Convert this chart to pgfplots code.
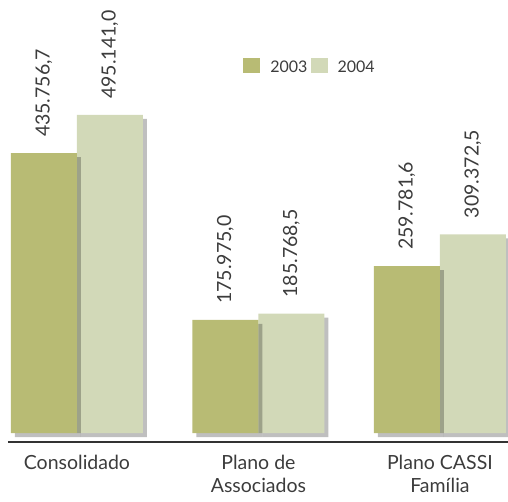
\documentclass[border=0pt]{standalone}
\usepackage{pgfplots}
\pgfplotsset{compat=1.18}
\usepackage{fontspec}
\setmainfont{Lato}
\definecolor{cA}{RGB}{184,187,116}
\definecolor{cB}{RGB}{210,217,184}
\definecolor{tx}{RGB}{60,60,60}
\begin{document}
\begin{tikzpicture}
\begin{axis}[
  scale only axis, width=500pt, height=442pt,
  xmin=-0.380, xmax=2.375, ymin=-14013, ymax=674200,
  axis x line=bottom, axis y line=none,
  axis line style={-, line width=1.3pt, color=black!80},
  xtick={0,1,2}, xtick style={draw=none}, ytick=\empty,
  xticklabels={Consolidado, Plano de\\Associados, Plano CASSI\\Família},
  xticklabel style={align=center, yshift=-5pt, font=\fontsize{19.5}{23.4}\selectfont, text=tx},
  ybar=0pt, bar width=66pt,
  nodes near coords, point meta=explicit symbolic,
  nodes near coords style={yshift=16pt, rotate=90, anchor=west, inner xsep=0pt,
     font=\fontsize{19.5}{23.4}\selectfont, text=tx},
  legend image code/.code={\fill[#1] (0pt,-6pt) rectangle (17pt,9pt);},
  legend columns=-1,
  legend style={draw=none, fill=none, at={(rel axis cs:0.604,0.848)}, anchor=center,
    font=\fontsize{16}{19}\selectfont, text=tx,
    /tikz/every odd column/.append style={column sep=8pt},
    /tikz/every even column/.append style={column sep=1pt}},
]
\addlegendimage{fill=cA, draw=none}
\addlegendimage{fill=cB, draw=none}
\addplot[forget plot, bar shift=33pt, fill=cB, draw=none,
  preaction={fill=black, opacity=0.25, transform canvas={xshift=4pt,yshift=-4pt}}]
  table[meta=lab] {
x y lab
0 495141.0 {495.141,0}
1 185768.5 {185.768,5}
2 309372.5 {309.372,5}
};
\addplot[forget plot, bar shift=-33pt, fill=cA, draw=none,
  preaction={fill=black, opacity=0.25, transform canvas={xshift=4pt,yshift=-4pt}}]
  table[meta=lab] {
x y lab
0 435756.7 {435.756,7}
1 175975.0 {175.975,0}
2 259781.6 {259.781,6}
};
\legend{2003,2004}
\end{axis}
\pgfresetboundingbox
\path (-8pt,-59pt) rectangle (500pt,442pt);
\end{tikzpicture}
\end{document}
